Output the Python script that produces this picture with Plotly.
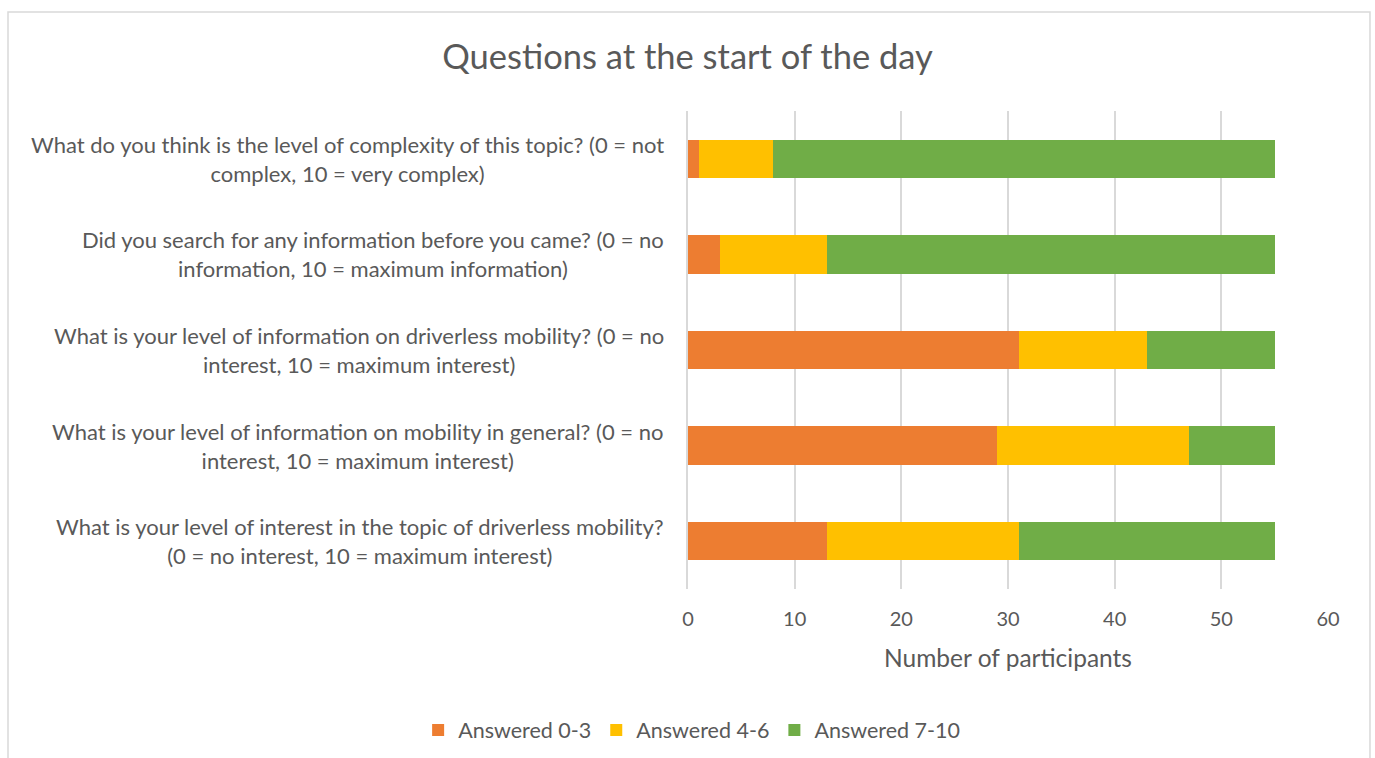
import plotly.graph_objects as go

# questions, top to bottom as shown
questions = [
    "What do you think is the level of complexity of this topic? (0 = not<br>complex, 10 = very complex)",
    "Did you search for any information before you came? (0 = no<br>information, 10 = maximum information)",
    "What is your level of information on driverless mobility? (0 = no<br>interest, 10 = maximum interest)",
    "What is your level of information on mobility in general? (0 = no<br>interest, 10 = maximum interest)",
    "What is your level of interest in the topic of driverless mobility?<br>(0 = no interest, 10 = maximum interest)",
]
answered_0_3 = [1, 3, 31, 29, 13]
answered_4_6 = [7, 10, 12, 18, 18]
answered_7_10 = [47, 42, 12, 8, 24]
x_ticks = [0, 10, 20, 30, 40, 50, 60]

FONT = "Lato, 'Open Sans', sans-serif"
TXT = "#595959"

fig = go.Figure()
for name, vals, col in [
    ("Answered 0-3", answered_0_3, "#ED7D31"),
    ("Answered 4-6", answered_4_6, "#FFC000"),
    ("Answered 7-10", answered_7_10, "#70AD47"),
]:
    fig.add_trace(go.Bar(
        y=questions, x=vals, name=name, orientation="h",
        marker=dict(color=col, line=dict(width=0)),
        width=0.4,
    ))

# centered multi-line category labels
for q in questions:
    fig.add_annotation(
        x=0, xref="paper", y=q, yref="y", text=q, showarrow=False,
        xanchor="right", align="center", xshift=-22,
        font=dict(family=FONT, size=22, color=TXT),
    )

# outer chart border
fig.add_shape(
    type="rect", xref="paper", yref="paper",
    x0=-1.0625, x1=1.0656, y0=-0.37, y1=1.207,
    line=dict(color="#D9D9D9", width=1.5), fillcolor="rgba(0,0,0,0)",
)

fig.update_layout(
    width=1375, height=758,
    barmode="stack",
    paper_bgcolor="white", plot_bgcolor="white",
    margin=dict(l=688, r=47, t=111, b=169),
    title=dict(
        text="Questions at the start of the day",
        x=0.5, xref="container", xanchor="center",
        y=1 - 57 / 758, yref="container", yanchor="middle",
        font=dict(family=FONT, size=34.5, color=TXT),
    ),
    font=dict(family=FONT, size=19, color=TXT),
    xaxis=dict(
        range=[0, 60], tickvals=x_ticks, showgrid=True,
        gridcolor="#D9D9D9", gridwidth=1.5, zeroline=False,
        showline=False, ticks="", ticklabelstandoff=16,
        tickfont=dict(size=20, color=TXT),
        title=dict(text="Number of participants", font=dict(size=24.5, color=TXT), standoff=20),
    ),
    yaxis=dict(
        autorange="reversed", showticklabels=False, showgrid=False,
        showline=True, linecolor="#D9D9D9", linewidth=1.5, ticks="",
    ),
    legend=dict(
        orientation="h", x=0.503, xref="container", xanchor="center",
        y=1 - 730 / 758, yref="container", yanchor="middle",
        font=dict(size=21.5, color=TXT), itemwidth=30, traceorder="normal",
    ),
    showlegend=True,
)

fig.write_html("out.html", config={"displayModeBar": False})

# drop the default page margin so the figure sits at the window origin
with open("out.html", encoding="utf-8") as f:
    html = f.read()
html = html.replace("<body>", '<body style="margin:0">', 1)
with open("out.html", "w", encoding="utf-8") as f:
    f.write(html)
